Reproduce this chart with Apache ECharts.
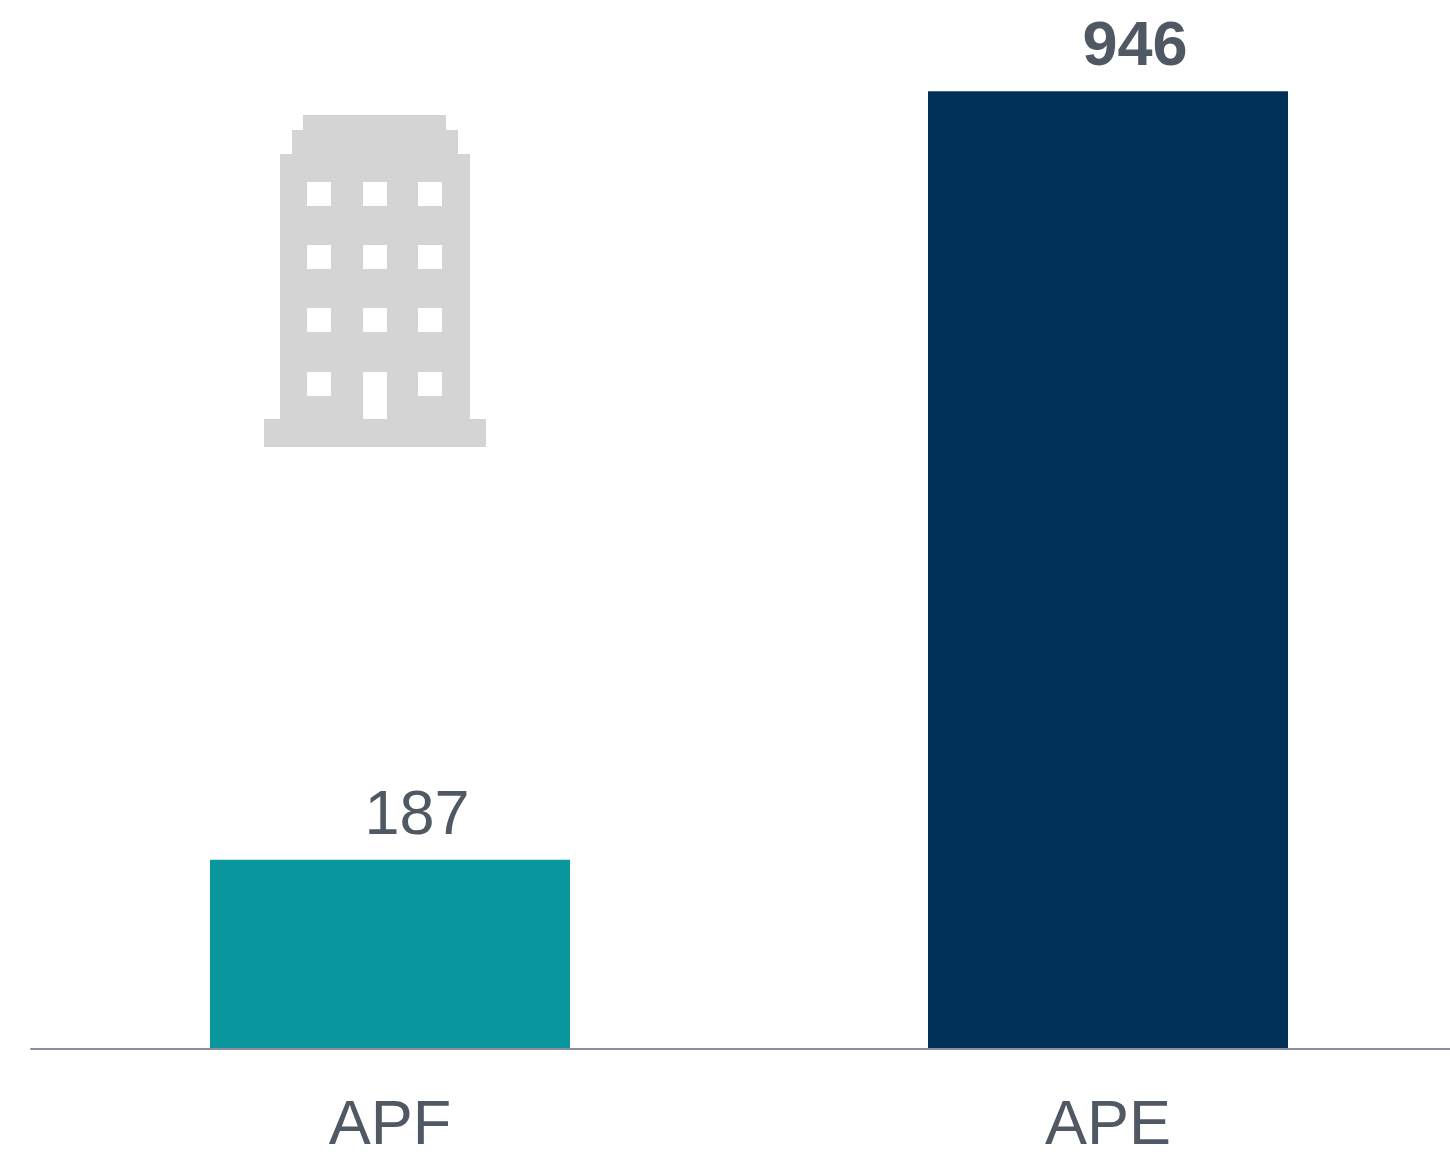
<!DOCTYPE html>
<html><head><meta charset="utf-8">
<style>html,body{margin:0;padding:0;background:#fff;overflow:hidden}#c{width:1450px;height:1156px}</style>
<script src="https://cdn.jsdelivr.net/npm/echarts@6/dist/echarts.min.js"></script>
</head><body><div id="c"></div>
<script>
const categories = ['APF', 'APE'];
const values = [187, 946];
const barColors = ['#09979D', '#003057'];
const labelWeights = ['normal', 'bold'];
const textColor = '#4F5863';
const iconColor = '#D4D4D4';

// Building icon: outline plus window cut-outs (decoration, not data)
const iconBody = [[303,115],[446,115],[446,130],[458,130],[458,154],[470,154],[470,419],[486,419],[486,447],[264,447],[264,419],[280,419],[280,154],[292,154],[292,130],[303,130]];
const iconWindows = [
  [307,182,24,24],[363,182,24,24],[418,182,24,24],
  [307,245,24,24],[363,245,24,24],[418,245,24,24],
  [307,308,24,24],[363,308,24,24],[418,308,24,24],
  [307,372,24,24],[363,372,24,47],[418,372,24,24]
];

const chart = echarts.init(document.getElementById('c'), null, {renderer:'canvas'});
chart.setOption({
  animation:false,
  backgroundColor:'#fff',
  grid:{left:31, width:1436, top:0, height:1049, containLabel:false, outerBoundsMode:'none'},
  xAxis:{type:'category', data:categories, z:3,
    axisLine:{show:true, lineStyle:{color:'#87909A', width:2}},
    axisTick:{show:false},
    axisLabel:{fontFamily:'Liberation Sans', fontSize:63, color:textColor, margin:46}},
  yAxis:{type:'value', min:0, max:1036, show:false, splitLine:{show:false}},
  series:[{type:'bar', barWidth:360,
    data:values.map((v,i)=>({value:v,
      itemStyle:{color:barColors[i]},
      label:{show:true, position:'top', distance:12, offset:[27,0],
        fontFamily:'Liberation Sans', fontSize:63, color:textColor, fontWeight:labelWeights[i]}}))
  }],
  graphic:[
    {type:'polygon', shape:{points:iconBody}, style:{fill:iconColor}, z:5},
    ...iconWindows.map(w=>({type:'rect', shape:{x:w[0],y:w[1],width:w[2],height:w[3]}, style:{fill:'#fff'}, z:6}))
  ]
});
</script></body></html>
